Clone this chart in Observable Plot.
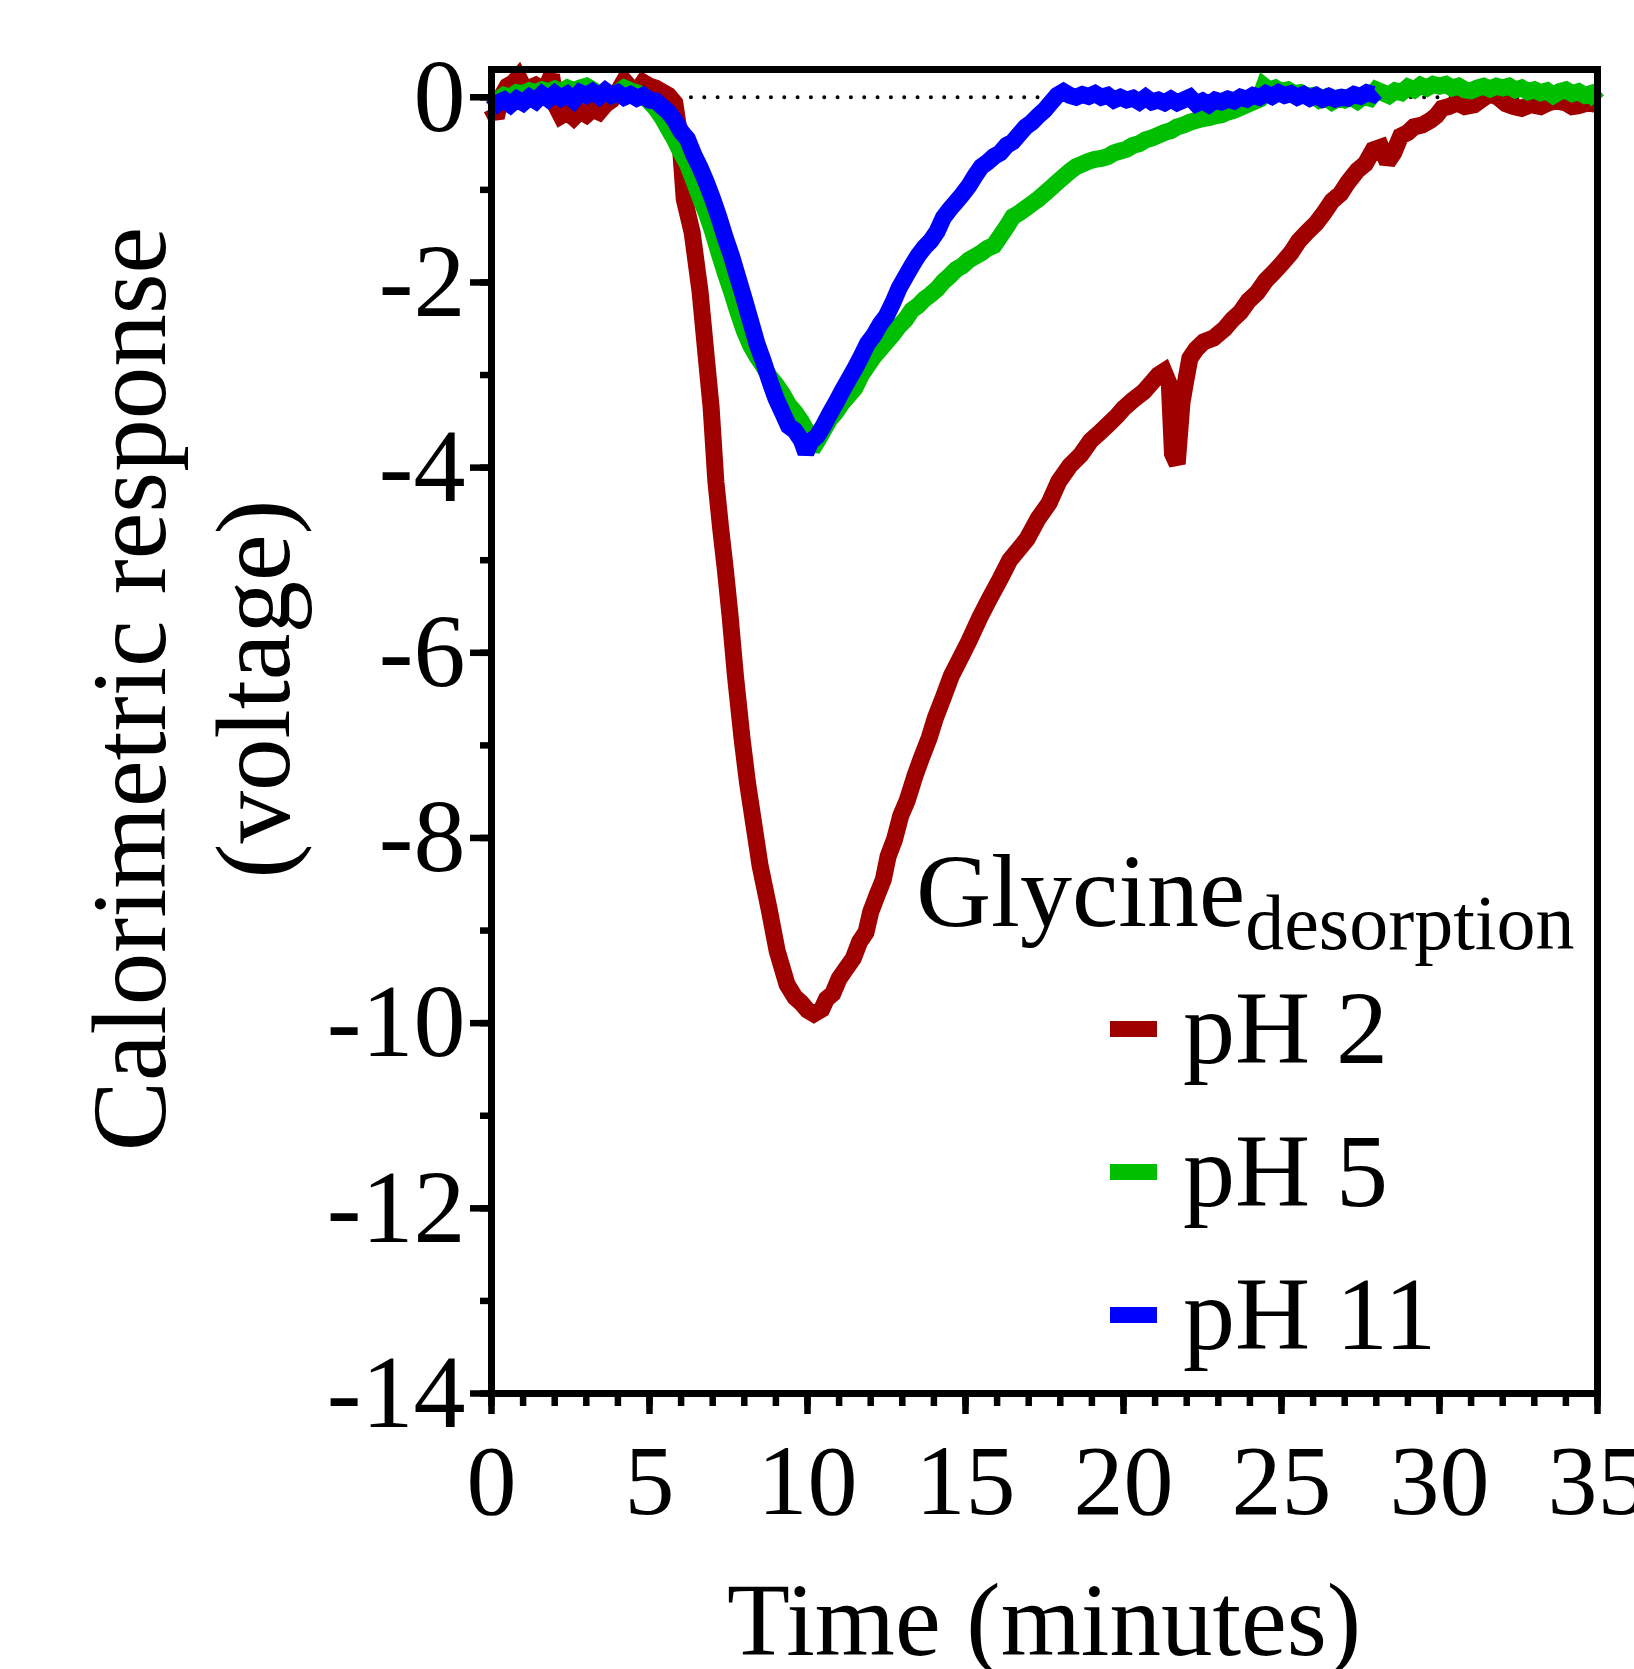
<!DOCTYPE html>
<html>
<head>
<meta charset="utf-8">
<script src="https://cdn.jsdelivr.net/npm/d3@7"></script>
<script src="https://cdn.jsdelivr.net/npm/@observablehq/plot@0.6"></script>
<style>
  html, body { margin: 0; padding: 0; background: #fff; overflow: hidden; }
  #chart svg { display: block; }
</style>
</head>
<body>
<div id="chart"></div>
<script>
// ---- Data ----
const seriesNames = ["pH 2", "pH 5", "pH 11"];
const seriesColors = ["#a00000", "#00bf00", "#0000ff"];
const legendTitle = "Glycine";
const legendSub = "desorption";
const xLabel = "Time (minutes)";
const yLabelLines = ["Calorimetric response", "(voltage)"];
const xMajorTicks = [0, 5, 10, 15, 20, 25, 30, 35];
const yMajorTicks = [0, -2, -4, -6, -8, -10, -12, -14];

// [time (min), response]
const pH2 = [[0,-0.12],[0.15,-0.22],[0.3,0.0],[0.5,0.12],[0.7,0.16],[0.85,0.22],[1.0,0.12],[1.2,0.1],[1.4,0.13],[1.6,0.09],[1.75,0.12],[1.9,0.24],[2.05,-0.1],[2.2,-0.2],[2.4,-0.16],[2.6,-0.22],[2.8,-0.15],[3.0,-0.19],[3.2,-0.13],[3.4,-0.16],[3.6,-0.08],[3.8,-0.03],[4.0,0.06],[4.2,0.18],[4.4,0.1],[4.6,0.06],[4.8,0.16],[5.0,0.12],[5.2,0.1],[5.4,0.06],[5.6,0.02],[5.8,-0.06],[5.95,-0.4],[6.1,-1.1],[6.35,-1.46],[6.6,-2.1],[6.8,-2.82],[6.95,-3.35],[7.1,-4.15],[7.25,-4.65],[7.4,-5.1],[7.55,-5.6],[7.72,-6.25],[7.93,-6.93],[8.1,-7.4],[8.3,-7.85],[8.5,-8.3],[8.78,-8.76],[9.04,-9.22],[9.35,-9.58],[9.6,-9.72],[9.8,-9.78],[10.0,-9.86],[10.2,-9.9],[10.45,-9.85],[10.6,-9.74],[10.8,-9.68],[11.0,-9.52],[11.2,-9.42],[11.45,-9.3],[11.65,-9.12],[11.85,-9.02],[12.0,-8.8],[12.2,-8.62],[12.4,-8.45],[12.55,-8.2],[12.75,-8.02],[12.95,-7.76],[13.15,-7.6],[13.4,-7.33],[13.6,-7.14],[13.85,-6.92],[14.05,-6.7],[14.3,-6.48],[14.55,-6.25],[14.85,-6.05],[15.1,-5.88],[15.45,-5.62],[15.75,-5.42],[16.1,-5.2],[16.4,-5.0],[16.95,-4.77],[17.3,-4.55],[17.65,-4.38],[17.95,-4.15],[18.3,-3.98],[18.65,-3.86],[18.96,-3.71],[19.25,-3.62],[19.5,-3.54],[19.8,-3.44],[20.0,-3.36],[20.3,-3.27],[20.64,-3.18],[20.9,-3.08],[21.1,-3.0],[21.28,-2.96],[21.45,-3.1],[21.55,-3.85],[21.7,-3.96],[21.85,-3.3],[21.95,-3.1],[22.1,-2.82],[22.3,-2.72],[22.54,-2.64],[22.85,-2.6],[23.2,-2.5],[23.45,-2.4],[23.7,-2.32],[23.95,-2.2],[24.23,-2.11],[24.5,-1.98],[24.76,-1.89],[25.0,-1.8],[25.3,-1.68],[25.55,-1.55],[25.8,-1.46],[26.1,-1.36],[26.34,-1.25],[26.6,-1.12],[26.87,-1.04],[27.1,-0.92],[27.4,-0.79],[27.65,-0.72],[27.9,-0.57],[28.15,-0.54],[28.35,-0.7],[28.55,-0.6],[28.77,-0.42],[29.0,-0.38],[29.19,-0.32],[29.45,-0.3],[29.71,-0.25],[29.9,-0.2],[30.08,-0.12],[30.3,-0.1],[30.56,-0.06],[30.8,-0.1],[31.1,-0.08],[31.35,-0.02],[31.6,0.04],[31.85,0.0],[32.1,-0.07],[32.35,-0.1],[32.6,-0.12],[32.9,-0.08],[33.2,-0.1],[33.45,-0.06],[33.7,-0.04],[34.0,-0.06],[34.2,-0.1],[34.4,-0.09],[34.7,-0.06],[35.0,-0.08]];

const pH5 = [[0,-0.08],[0.2,-0.03],[0.4,0.02],[0.6,0.0],[0.8,0.05],[1.0,0.04],[1.2,0.07],[1.4,0.05],[1.6,0.08],[1.8,0.06],[2.0,0.09],[2.2,0.06],[2.4,0.1],[2.6,0.07],[2.8,0.1],[3.0,0.12],[3.2,0.08],[3.4,0.03],[3.6,0.06],[3.8,0.02],[4.0,0.05],[4.2,0.1],[4.4,0.07],[4.6,0.05],[4.8,0.02],[5.0,-0.05],[5.2,-0.12],[5.4,-0.22],[5.6,-0.34],[5.8,-0.46],[6.0,-0.6],[6.2,-0.72],[6.4,-0.9],[6.6,-1.08],[6.8,-1.25],[7.0,-1.45],[7.2,-1.68],[7.4,-1.9],[7.6,-2.1],[7.8,-2.32],[8.0,-2.52],[8.2,-2.68],[8.4,-2.8],[8.6,-2.9],[8.8,-3.02],[9.0,-3.1],[9.2,-3.2],[9.4,-3.32],[9.6,-3.4],[9.8,-3.5],[10.0,-3.62],[10.15,-3.8],[10.3,-3.72],[10.5,-3.6],[10.7,-3.48],[10.9,-3.4],[11.1,-3.3],[11.3,-3.22],[11.5,-3.14],[11.7,-3.0],[11.9,-2.9],[12.1,-2.8],[12.3,-2.72],[12.5,-2.64],[12.7,-2.56],[12.9,-2.47],[13.1,-2.4],[13.3,-2.3],[13.5,-2.25],[13.7,-2.18],[13.9,-2.13],[14.1,-2.07],[14.3,-1.99],[14.5,-1.93],[14.7,-1.86],[14.9,-1.82],[15.1,-1.76],[15.3,-1.72],[15.5,-1.68],[15.7,-1.63],[15.9,-1.6],[16.1,-1.5],[16.3,-1.4],[16.5,-1.29],[16.7,-1.25],[16.9,-1.2],[17.1,-1.15],[17.3,-1.1],[17.5,-1.04],[17.7,-0.98],[17.9,-0.92],[18.1,-0.86],[18.3,-0.8],[18.5,-0.75],[18.7,-0.72],[18.9,-0.69],[19.1,-0.67],[19.3,-0.66],[19.5,-0.64],[19.7,-0.6],[19.9,-0.58],[20.1,-0.56],[20.3,-0.52],[20.5,-0.5],[20.7,-0.46],[20.9,-0.44],[21.1,-0.41],[21.3,-0.38],[21.5,-0.36],[21.7,-0.32],[21.9,-0.3],[22.1,-0.27],[22.3,-0.25],[22.5,-0.23],[22.7,-0.22],[22.9,-0.2],[23.1,-0.19],[23.3,-0.16],[23.5,-0.14],[23.7,-0.11],[23.9,-0.08],[24.1,-0.05],[24.3,-0.02],[24.45,0.12],[24.6,0.08],[24.8,0.1],[25.0,0.06],[25.2,0.08],[25.4,0.04],[25.6,0.05],[25.8,0.01],[26.0,0.02],[26.2,-0.03],[26.4,0.0],[26.6,-0.05],[26.8,-0.01],[27.0,-0.03],[27.2,0.0],[27.4,-0.04],[27.6,0.01],[27.8,-0.01],[28.0,0.08],[28.2,0.05],[28.4,0.02],[28.6,0.07],[28.8,0.05],[29.0,0.11],[29.2,0.08],[29.4,0.13],[29.6,0.1],[29.8,0.14],[30.0,0.12],[30.2,0.14],[30.4,0.1],[30.6,0.12],[30.8,0.08],[31.0,0.07],[31.2,0.1],[31.4,0.12],[31.6,0.09],[31.8,0.12],[32.0,0.1],[32.2,0.12],[32.4,0.08],[32.6,0.1],[32.8,0.06],[33.0,0.08],[33.2,0.05],[33.4,0.07],[33.6,0.02],[33.8,0.06],[34.0,0.08],[34.2,0.04],[34.4,0.06],[34.6,0.02],[34.8,0.04],[35.0,-0.04]];

const pH11 = [[0,-0.12],[0.2,-0.06],[0.4,-0.03],[0.6,-0.08],[0.8,-0.02],[1.0,-0.06],[1.2,0.0],[1.4,-0.04],[1.6,0.03],[1.8,-0.02],[2.0,0.04],[2.2,-0.01],[2.4,0.03],[2.6,-0.03],[2.8,0.05],[3.0,0.02],[3.2,0.06],[3.4,0.01],[3.6,0.07],[3.8,0.02],[4.0,0.05],[4.2,0.0],[4.4,0.03],[4.6,-0.01],[4.8,0.02],[5.0,-0.03],[5.2,-0.04],[5.4,-0.1],[5.6,-0.16],[5.8,-0.25],[6.0,-0.37],[6.2,-0.45],[6.4,-0.62],[6.6,-0.76],[6.8,-0.92],[7.0,-1.1],[7.2,-1.3],[7.4,-1.52],[7.6,-1.72],[7.8,-1.95],[8.0,-2.18],[8.2,-2.42],[8.4,-2.66],[8.6,-2.85],[8.8,-3.06],[9.0,-3.25],[9.2,-3.4],[9.4,-3.55],[9.6,-3.6],[9.8,-3.7],[9.95,-3.84],[10.1,-3.72],[10.3,-3.66],[10.5,-3.55],[10.7,-3.42],[10.9,-3.3],[11.1,-3.17],[11.3,-3.05],[11.5,-2.93],[11.7,-2.8],[11.9,-2.66],[12.1,-2.57],[12.3,-2.45],[12.5,-2.36],[12.7,-2.22],[12.9,-2.06],[13.1,-1.94],[13.3,-1.82],[13.5,-1.71],[13.7,-1.62],[13.9,-1.55],[14.1,-1.45],[14.3,-1.3],[14.5,-1.21],[14.7,-1.13],[14.9,-1.05],[15.1,-0.96],[15.3,-0.85],[15.5,-0.75],[15.7,-0.7],[15.9,-0.64],[16.1,-0.6],[16.3,-0.52],[16.5,-0.48],[16.7,-0.4],[16.9,-0.32],[17.1,-0.27],[17.3,-0.2],[17.5,-0.14],[17.7,-0.06],[17.9,0.02],[18.1,0.06],[18.3,0.02],[18.5,0.0],[18.7,0.03],[18.9,0.01],[19.1,0.04],[19.3,0.0],[19.5,0.02],[19.7,-0.03],[19.9,0.0],[20.1,-0.03],[20.3,-0.01],[20.5,-0.05],[20.7,0.0],[20.9,-0.05],[21.1,-0.03],[21.3,-0.06],[21.5,-0.02],[21.7,-0.06],[21.9,-0.03],[22.1,0.0],[22.3,-0.07],[22.5,-0.04],[22.7,-0.08],[22.9,-0.03],[23.1,-0.05],[23.3,-0.02],[23.5,-0.04],[23.7,0.0],[23.9,-0.02],[24.1,0.02],[24.3,0.0],[24.5,0.04],[24.7,0.01],[24.9,0.05],[25.1,0.02],[25.3,0.04],[25.5,0.0],[25.7,0.03],[25.9,-0.01],[26.1,0.02],[26.3,-0.02],[26.5,0.01],[26.7,-0.02],[26.9,0.0],[27.1,-0.01],[27.3,0.03],[27.5,0.01],[27.7,0.05],[27.9,0.03],[28.0,0.06]];

// ---- Build table ----
const seriesData = [pH2, pH5, pH11];
const rows = [];
seriesData.forEach((arr, i) => arr.forEach(([t, v]) => rows.push({t, v, series: seriesNames[i]})));

const serif = "'Liberation Serif', 'Times New Roman', serif";

const svg = Plot.plot({
  width: 1634,
  height: 1669,
  marginLeft: 491,
  marginRight: 37,
  marginTop: 69,
  marginBottom: 276,
  style: {fontFamily: serif, fontSize: "100px", background: "white", color: "black", overflow: "hidden"},
  x: {domain: [0, 35]},
  y: {domain: [-14, 0.3]},
  color: {domain: seriesNames, range: seriesColors},
  marks: [
    Plot.ruleY([0], {stroke: "black", strokeWidth: 4, strokeDasharray: "0,13.33", strokeLinecap: "round"}),
    Plot.line(rows, {x: "t", y: "v", z: "series", stroke: "series", strokeWidth: 17, strokeLinejoin: "miter", strokeMiterlimit: 2, strokeLinecap: "butt"}),
    Plot.frame({stroke: "black", strokeWidth: 7}),
    Plot.axisX(d3.range(0, 36, 1), {tickSize: 13, strokeWidth: 6.5, tickFormat: () => "", label: null}),
    Plot.axisX(xMajorTicks, {tickSize: 21, tickPadding: 28, strokeWidth: 6.5, fontSize: 100, tickFormat: d => String(d), label: null}),
    Plot.axisY(d3.range(-14, 1, 1), {tickSize: 11, strokeWidth: 6.5, tickFormat: () => "", label: null}),
    Plot.axisY(yMajorTicks, {tickSize: 21, tickPadding: 5, strokeWidth: 6.5, fontSize: 104, tickFormat: d => String(d), label: null})
  ]
});

document.getElementById("chart").appendChild(svg);

// ---- Axis titles and legend (text added into the same SVG) ----
const s = d3.select(svg);
const g = s.append("g").attr("font-family", serif).attr("fill", "black");

g.append("text")
  .attr("x", 1044).attr("y", 1655)
  .attr("text-anchor", "middle").attr("font-size", 103)
  .text(xLabel);

const yLabBase = [165, 289];
yLabelLines.forEach((line, i) => {
  g.append("text")
    .attr("transform", `translate(${yLabBase[i]},689) rotate(-90)`)
    .attr("text-anchor", "middle").attr("font-size", 105)
    .text(line);
});

const lt = g.append("text").attr("x", 916).attr("y", 926).attr("font-size", 104).attr("text-anchor", "start");
lt.append("tspan").text(legendTitle);
lt.append("tspan").attr("font-size", 78).attr("dy", 23).text(legendSub);

seriesNames.forEach((name, i) => {
  const base = 1063 + i * 143;
  g.append("rect")
    .attr("x", 1110).attr("y", base - 42).attr("width", 47).attr("height", 16)
    .attr("fill", seriesColors[i]);
  g.append("text")
    .attr("x", 1183).attr("y", base).attr("font-size", 104).attr("text-anchor", "start")
    .text(name);
});
</script>
</body>
</html>
